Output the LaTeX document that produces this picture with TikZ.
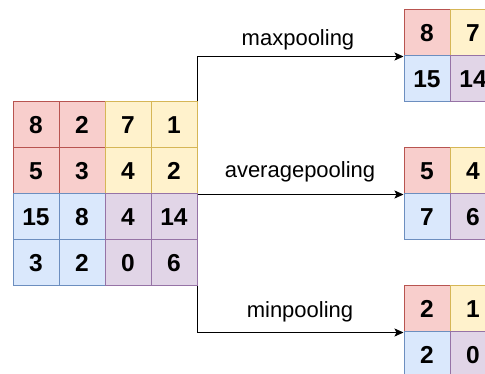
\documentclass[tikz,border=0pt]{standalone}
\usepackage{fontspec}
\setmainfont{Liberation Sans}
\usetikzlibrary{arrows.meta}
\definecolor{rf}{HTML}{F8CECC}\definecolor{rd}{HTML}{B85450}
\definecolor{yf}{HTML}{FFF2CC}\definecolor{yd}{HTML}{D6B656}
\definecolor{bf}{HTML}{DAE8FC}\definecolor{bd}{HTML}{6C8EBF}
\definecolor{pf}{HTML}{E1D5E7}\definecolor{pd}{HTML}{9673A6}
\tikzset{
  cell/.style={minimum width=46pt,minimum height=46pt,inner sep=0pt,line width=1pt,
    font=\fontsize{24.5}{28}\selectfont\bfseries},
  cr/.style={cell,fill=rf,draw=rd},
  cy/.style={cell,fill=yf,draw=yd},
  cb/.style={cell,fill=bf,draw=bd},
  cp/.style={cell,fill=pf,draw=pd},
  lbl/.style={anchor=base,inner sep=0pt,font=\fontsize{22}{26}\selectfont},
  conn/.style={line width=1pt,-{Stealth[length=9pt,width=8pt,inset=2pt]}}
}
\begin{document}
\begin{tikzpicture}[x=1pt,y=-1pt]
\useasboundingbox (0,0) rectangle (485,374);
\clip (0,0) rectangle (485,374);
% left grid
\node[cr] (c11) at (36,125) {8};
\node[cr] (c12) at (82,125) {2};
\node[cy] (c13) at (128,125) {7};
\node[cy] (c14) at (174,125) {1};
\node[cr] (c21) at (36,171) {5};
\node[cr] (c22) at (82,171) {3};
\node[cy] (c23) at (128,171) {4};
\node[cy] (c24) at (174,171) {2};
\node[cb] (c31) at (36,217) {15};
\node[cb] (c32) at (82,217) {8};
\node[cp] (c33) at (128,217) {4};
\node[cp] (c34) at (174,217) {14};
\node[cb] (c41) at (36,263) {3};
\node[cb] (c42) at (82,263) {2};
\node[cp] (c43) at (128,263) {0};
\node[cp] (c44) at (174,263) {6};
% max
\node[cr] (t11) at (427,33) {8};
\node[cy] (t12) at (473,33) {7};
\node[cb] (t21) at (427,79) {15};
\node[cp] (t22) at (473,79) {14};
% average
\node[cr] (m11) at (427,171) {5};
\node[cy] (m12) at (473,171) {4};
\node[cb] (m21) at (427,217) {7};
\node[cp] (m22) at (473,217) {6};
% min
\node[cr] (b11) at (427,309) {2};
\node[cy] (b12) at (473,309) {1};
\node[cb] (b21) at (427,355) {2};
\node[cp] (b22) at (473,355) {0};
% connectors
\draw[conn] (c14.north east) |- (t11.south west);
\draw[conn] (c24.south east) -- (m11.south west);
\draw[conn] (c44.south east) |- (b11.south west);
% labels
\node[lbl] (lmax) at (298,46) {maxpooling};
\node[lbl] (lavg) at (300,178) {averagepooling};
\node[lbl] (lmin) at (300,317) {minpooling};
\end{tikzpicture}
\end{document}
